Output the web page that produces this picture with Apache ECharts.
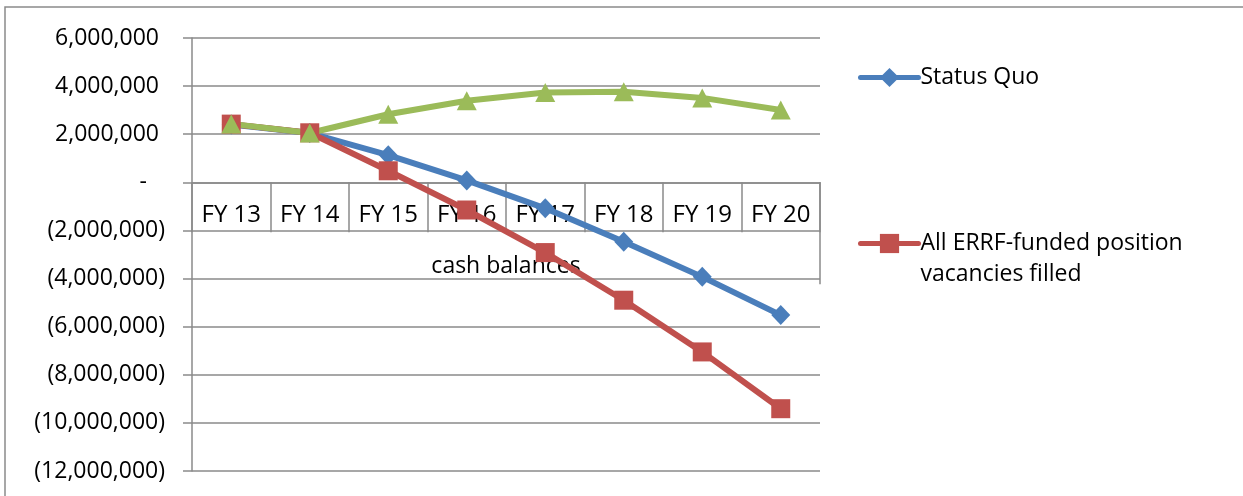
<!DOCTYPE html>
<html>
<head>
<meta charset="utf-8">
<script src="https://cdn.jsdelivr.net/npm/echarts@6/dist/echarts.min.js"></script>
<style>
  html, body { margin: 0; padding: 0; background: #ffffff; }
  #chart { width: 1243px; height: 496px; }
</style>
</head>
<body>
<div id="chart"></div>
<script>
// Fiscal years on the category axis
const categories = ['FY 13', 'FY 14', 'FY 15', 'FY 16', 'FY 17', 'FY 18', 'FY 19', 'FY 20'];

// Projected cash balances per scenario
const statusQuo = [2400000, 2050000, 1130000, 80000, -1080000, -2470000, -3930000, -5520000];
const allFilled = [2420000, 2060000, 480000, -1150000, -2920000, -4900000, -7050000, -9410000];
const thirdScenario = [2430000, 2050000, 2830000, 3390000, 3730000, 3770000, 3510000, 3010000];

// Value axis range and step
const yMin = -12000000;
const yMax = 6000000;
const yStep = 2000000;

const seriesNames = ['Status Quo', 'All ERRF-funded position vacancies filled', 'Series 3'];
const axisTitle = 'cash balances';

const FONT = '"Open Sans", "Noto Sans", sans-serif';
const GRAY = '#8a8a8a';
const W = 1243, H = 496;
const grid = { left: 192, top: 38, right: 423, bottom: 25 };

// Pixel row of the zero line; the category axis sits there
const plotH = H - grid.top - grid.bottom;
const zeroY = grid.top + (yMax / (yMax - yMin)) * plotH;

function yLabel(v) {
  if (v === 0) return '{z|-}';
  const s = Math.abs(v).toLocaleString('en-US');
  return v < 0 ? '{n|(' + s + ')}' : '{p|' + s + '}';
}

const labelRich = {
  p: { fontSize: 23, fontFamily: FONT, color: '#000', padding: [0, 6, 0, 0] },
  n: { fontSize: 23, fontFamily: FONT, color: '#000' },
  z: { fontSize: 23, fontFamily: FONT, color: '#000', padding: [0, 18, 0, 0] }
};

function lineSeries(name, data, color, symbol, size) {
  return {
    name: name,
    type: 'line',
    data: data,
    symbol: symbol,
    symbolSize: size,
    showSymbol: true,
    lineStyle: { color: color, width: 6, cap: 'round', join: 'round' },
    itemStyle: { color: color, borderWidth: 0 },
    emphasis: { disabled: true },
    animation: false,
    z: 3
  };
}

const legendText = { fontSize: 23, lineHeight: 31, fontFamily: FONT, color: '#000', padding: [0, 0, 0, -3] };

const chart = echarts.init(document.getElementById('chart'), null, { renderer: 'canvas' });

chart.setOption({
  backgroundColor: '#ffffff',
  animation: false,
  grid: {
    left: grid.left, top: grid.top, right: grid.right, bottom: grid.bottom,
    containLabel: false, outerBoundsMode: 'none'
  },
  legend: [
    {
      data: [seriesNames[0]],
      orient: 'vertical',
      left: 858,
      top: 62,
      padding: 0,
      itemWidth: 58,
      itemHeight: 24,
      itemGap: 0,
      lineStyle: { width: 5, cap: 'round' },
      textStyle: legendText,
      selectedMode: false
    },
    {
      data: [seriesNames[1]],
      orient: 'vertical',
      left: 858,
      top: 197,
      padding: 0,
      itemWidth: 58,
      itemHeight: 24,
      itemGap: 0,
      lineStyle: { width: 5, cap: 'round' },
      formatter: function () { return ' \nAll ERRF-funded position\nvacancies filled'; },
      textStyle: legendText,
      selectedMode: false
    }
  ],
  xAxis: {
    type: 'category',
    data: categories,
    boundaryGap: true,
    position: 'bottom',
    offset: -(H - grid.bottom - zeroY),
    name: axisTitle,
    nameLocation: 'middle',
    nameGap: 73,
    nameTextStyle: { fontSize: 23, fontFamily: FONT, color: '#000' },
    axisLine: { show: true, onZero: false, lineStyle: { color: GRAY, width: 1.5 } },
    axisTick: { show: true, interval: 0, length: 50, alignWithLabel: false, lineStyle: { color: GRAY, width: 1.5 } },
    axisLabel: { show: true, interval: 0, margin: 21, fontSize: 24, fontFamily: FONT, color: '#000' },
    splitLine: { show: false }
  },
  yAxis: {
    type: 'value',
    min: yMin,
    max: yMax,
    interval: yStep,
    axisLine: { show: true, lineStyle: { color: GRAY, width: 1.5 } },
    axisTick: { show: true, length: 9, lineStyle: { color: GRAY, width: 1.5 } },
    axisLabel: { margin: 27, formatter: yLabel, rich: labelRich, fontSize: 23, fontFamily: FONT, color: '#000' },
    splitLine: { show: true, lineStyle: { color: GRAY, width: 1.5 } }
  },
  series: [
    lineSeries(seriesNames[0], statusQuo, '#4a7ebb', 'diamond', [19, 20]),
    lineSeries(seriesNames[1], allFilled, '#c0504d', 'rect', 19),
    lineSeries(seriesNames[2], thirdScenario, '#9bbb59', 'triangle', [20, 19])
  ],
  graphic: [
    {
      type: 'rect',
      silent: true,
      shape: { x: 5, y: 7, width: W + 50, height: H + 50 },
      style: { fill: 'none', stroke: GRAY, lineWidth: 1.5 }
    },
    {
      type: 'line',
      silent: true,
      shape: { x1: W - grid.right, y1: zeroY, x2: W - grid.right, y2: zeroY + 102 },
      style: { stroke: GRAY, lineWidth: 1.5 }
    }
  ]
});
</script>
</body>
</html>
